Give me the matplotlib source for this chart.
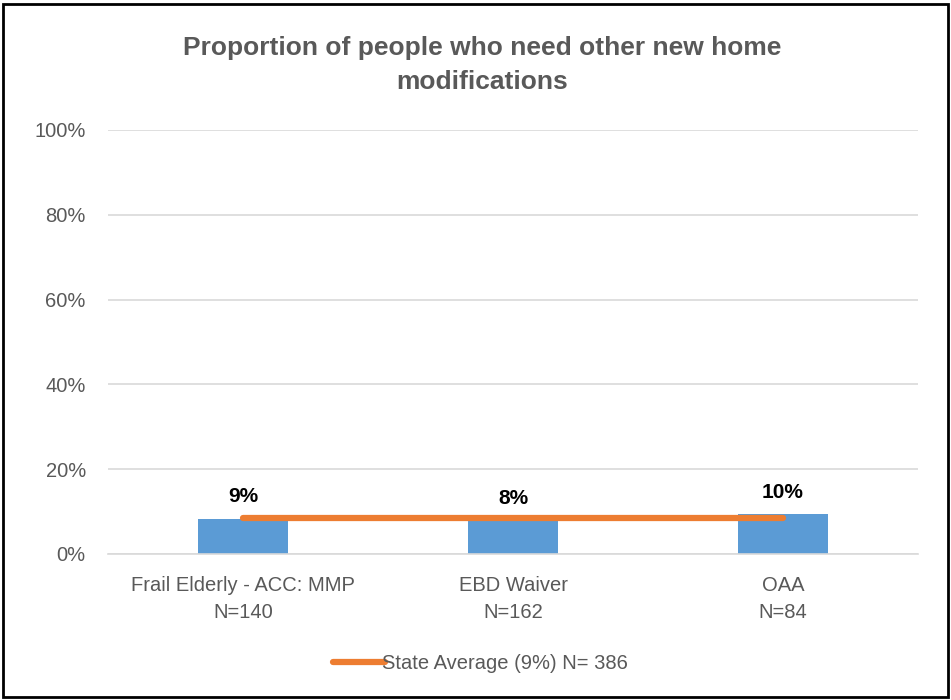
import matplotlib
matplotlib.use("Agg")
import matplotlib.pyplot as plt
from matplotlib.patches import Rectangle
from matplotlib.ticker import FuncFormatter

# data
categories = ["Frail Elderly - ACC: MMP\nN=140", "EBD Waiver\nN=162", "OAA\nN=84"]
values = [0.083, 0.080, 0.094]
value_labels = ["9%", "8%", "10%"]
state_avg = 0.086
legend_label = "State Average (9%) N= 386"
title = "Proportion of people who need other new home\nmodifications"

plt.rcParams["font.family"] = ["Liberation Sans", "DejaVu Sans"]
gray = "#595959"

fig = plt.figure(figsize=(9.51, 7.0), dpi=100)
ax = fig.add_axes([0.1136, 0.2086, 0.8517, 0.6057])

x = list(range(len(categories)))
ax.bar(x, values, width=0.333, color="#5B9BD5", zorder=2)
ax.plot(x, [state_avg] * len(x), color="#ED7D31", lw=4.5, solid_capstyle="round",
        zorder=3, label=legend_label)

for xi, v, lab in zip(x, values, value_labels):
    ax.text(xi, v + 0.052, lab, ha="center", va="center", fontsize=15, fontweight="bold",
            color="black", zorder=4,
            bbox=dict(facecolor="white", edgecolor="none", pad=1.5))

ax.set_xlim(-0.5, 2.5)
ax.set_ylim(0, 1.0)
ax.set_yticks([0, 0.2, 0.4, 0.6, 0.8, 1.0])
ax.yaxis.set_major_formatter(FuncFormatter(lambda v, _: f"{v:.0%}"))
ax.grid(axis="y", color="#D9D9D9", lw=1.2, zorder=0)
ax.set_xticks(x)
ax.set_xticklabels(categories, fontsize=14.5, color=gray, linespacing=1.55)
ax.tick_params(axis="y", labelsize=14.5, labelcolor=gray, length=0, pad=16)
ax.tick_params(axis="x", length=0, pad=16)
for side in ["top", "right", "left"]:
    ax.spines[side].set_visible(False)
ax.spines["bottom"].set_color("#D9D9D9")
ax.spines["bottom"].set_linewidth(1.2)

fig.text(0.507, 0.907, title, ha="center", va="center", fontsize=19, fontweight="bold",
         color=gray, linespacing=1.55)

fig.legend(loc="center", bbox_to_anchor=(0.505, 0.052), frameon=False, fontsize=14.5,
           labelcolor=gray, handlelength=2.6, handletextpad=-0.15)

fig.add_artist(Rectangle((0.003, 0.004), 0.994, 0.99, transform=fig.transFigure,
                         fill=False, edgecolor="black", lw=2))

fig.savefig("out.png", dpi=100)
